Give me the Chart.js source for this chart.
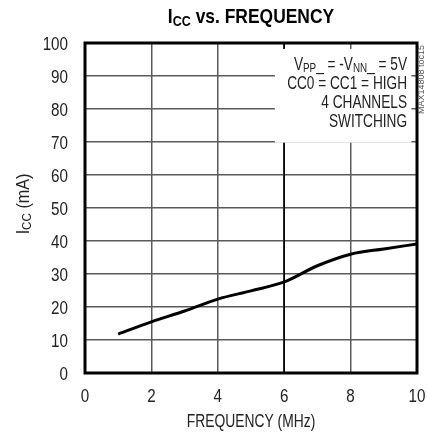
<!DOCTYPE html>
<html>
<head>
<meta charset="utf-8">
<script src="https://cdn.jsdelivr.net/npm/chart.js@4/dist/chart.umd.min.js"></script>
<style>
  html, body { margin: 0; padding: 0; background: #fff; }
  #wrap { width: 427px; height: 436px; }
</style>
</head>
<body>
<div id="wrap"><canvas id="chart" width="427" height="436"></canvas></div>
<script>
const FONT = '"Liberation Sans", Arial, sans-serif';
const SQUEEZE = 0.8; // the original uses a narrow face, so squeeze horizontally

// data
const freqMHz = [1, 2, 3, 4, 5, 6, 7, 8, 9, 10];
const iccMA = [11.8, 15.5, 18.8, 22.4, 24.9, 27.6, 32.5, 36.0, 37.6, 39.1];

const xTicks = [0, 2, 4, 6, 8, 10];
const yTicks = [0, 10, 20, 30, 40, 50, 60, 70, 80, 90, 100];

const noteLines = [
  [{ t: "V" }, { t: "PP", sub: true }, { t: "_ = -V" }, { t: "NN", sub: true }, { t: "_ = 5V" }],
  [{ t: "CC0 = CC1 = HIGH" }],
  [{ t: "4 CHANNELS" }],
  [{ t: "SWITCHING" }]
];

// draws text made of pieces, some of them as subscripts, squeezed sideways
function drawRich(ctx, parts, x, y, align, size, weight, squeeze) {
  const font = s => `${weight || ""} ${s}px ${FONT}`;
  let w = 0;
  parts.forEach(p => {
    ctx.font = font(p.sub ? size * 0.72 : size);
    w += ctx.measureText(p.t).width;
  });
  ctx.save();
  ctx.translate(x, y);
  ctx.scale(squeeze || SQUEEZE, 1);
  let cx = align === "right" ? -w : align === "center" ? -w / 2 : 0;
  ctx.textAlign = "left";
  ctx.textBaseline = "alphabetic";
  parts.forEach(p => {
    const s = p.sub ? size * 0.72 : size;
    ctx.font = font(s);
    ctx.fillText(p.t, cx, p.sub ? size * 0.12 : 0);
    cx += ctx.measureText(p.t).width;
  });
  ctx.restore();
}

const decor = {
  id: "decor",
  beforeDatasetsDraw(chart) {
    const { ctx, chartArea: a, scales: { x, y } } = chart;
    ctx.save();
    // the 6 MHz grid line is darker in the original
    const x6 = x.getPixelForValue(6);
    ctx.strokeStyle = "#000";
    ctx.lineWidth = 1.5;
    ctx.beginPath();
    ctx.moveTo(x6, a.top);
    ctx.lineTo(x6, a.bottom);
    ctx.stroke();
    // white box behind the note, covering the grid
    ctx.fillStyle = "#fff";
    const x0 = x.getPixelForValue(5.72), x1 = x.getPixelForValue(9.83);
    const y0 = y.getPixelForValue(98.2), y1 = y.getPixelForValue(69.8);
    ctx.fillRect(x0, y0, x1 - x0, y1 - y0);
    ctx.restore();
  },
  afterDraw(chart) {
    const { ctx, chartArea: a, scales: { x, y } } = chart;
    ctx.save();
    // frame
    ctx.strokeStyle = "#000";
    ctx.lineWidth = 3;
    ctx.strokeRect(a.left, a.top, a.right - a.left, a.bottom - a.top);

    ctx.fillStyle = "#222";
    // tick labels, placed by the scales
    y.ticks.forEach(t => {
      drawRich(ctx, [{ t: String(t.value) }], a.left - 17, y.getPixelForValue(t.value) + 7, "right", 19);
    });
    x.ticks.forEach(t => {
      drawRich(ctx, [{ t: String(t.value) }], x.getPixelForValue(t.value), a.bottom + 29, "center", 19);
    });

    const midX = (a.left + a.right) / 2;
    // title
    ctx.fillStyle = "#000";
    drawRich(ctx, [{ t: "I" }, { t: "CC", sub: true }, { t: " vs. FREQUENCY" }], midX, 23, "center", 21, "bold", 0.83);
    // x title
    ctx.fillStyle = "#222";
    drawRich(ctx, [{ t: "FREQUENCY (MHz)" }], midX, 427, "center", 18, "", 0.77);
    // y title
    ctx.save();
    ctx.translate(29, (a.top + a.bottom) / 2 - 4);
    ctx.rotate(-Math.PI / 2);
    drawRich(ctx, [{ t: "I" }, { t: "CC", sub: true }, { t: " (mA)" }], 0, 0, "center", 19, "", 0.85);
    ctx.restore();

    // note
    noteLines.forEach((line, i) => {
      drawRich(ctx, line, a.right - 10, a.top + 27 + i * 19, "right", 17.5, "", 0.78);
    });

    // figure id along the right edge
    ctx.save();
    ctx.translate(426, a.top + 2);
    ctx.rotate(-Math.PI / 2);
    ctx.fillStyle = "#555";
    ctx.font = `9px ${FONT}`;
    ctx.textAlign = "right";
    ctx.textBaseline = "bottom";
    ctx.fillText("MAX14808 toc15", 0, 0);
    ctx.restore();
    ctx.restore();
  }
};

new Chart(document.getElementById("chart"), {
  type: "line",
  data: {
    datasets: [{
      data: freqMHz.map((f, i) => ({ x: f, y: iccMA[i] })),
      borderColor: "#000",
      borderWidth: 3,
      pointRadius: 0,
      fill: false,
      cubicInterpolationMode: "monotone"
    }]
  },
  options: {
    responsive: false,
    animation: false,
    layout: { autoPadding: false, padding: { top: 43, right: 10, left: 0, bottom: 0 } },
    plugins: { legend: { display: false }, tooltip: { enabled: false } },
    scales: {
      x: {
        type: "linear",
        min: 0,
        max: 10,
        afterBuildTicks: s => { s.ticks = xTicks.map(v => ({ value: v })); },
        afterFit: s => { s.height = 63; },
        grid: { color: "#5a5a5a", lineWidth: 1.5, drawTicks: false },
        border: { display: false },
        ticks: { display: false }
      },
      y: {
        min: 0,
        max: 100,
        afterBuildTicks: s => { s.ticks = yTicks.map(v => ({ value: v })); },
        afterFit: s => { s.width = 85; },
        grid: { color: "#5a5a5a", lineWidth: 1.5, drawTicks: false },
        border: { display: false },
        ticks: { display: false }
      }
    }
  },
  plugins: [decor]
});
</script>
</body>
</html>
